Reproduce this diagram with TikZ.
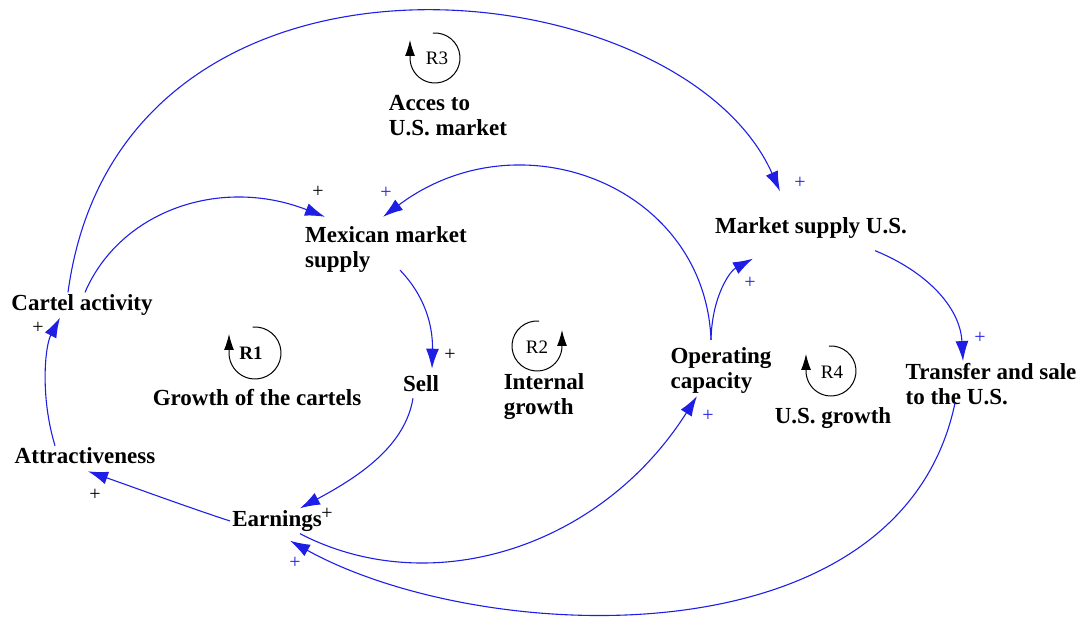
\documentclass[tikz,border=0pt]{standalone}
\usepackage{fontspec}
\setmainfont{Liberation Serif}
\usetikzlibrary{arrows.meta}
\definecolor{linkblue}{RGB}{30,30,230}

\begin{document}
\begin{tikzpicture}[x=1pt,y=1pt,
  var/.style={inner sep=2pt,font=\fontsize{23}{25}\selectfont\bfseries,align=left},
  looptitle/.style={inner sep=2pt,font=\fontsize{23}{25}\selectfont\bfseries,align=left},
  link/.style={linkblue,line width=1.1pt,-{Latex[length=20pt,width=13pt]}},
  pol/.style={inner sep=0pt,font=\fontsize{20}{20}\selectfont},
  loopsym/.style={black,line width=1pt,-{Latex[length=16pt,width=10pt]}},
  looplbl/.style={inner sep=0pt,font=\fontsize{19}{19}\selectfont}]
\useasboundingbox (0,0) rectangle (1084,626);

% Variables
\node[var] (cartel) at (82,321) {Cartel activity};
\node[var] (attract) at (85,170) {Attractiveness};
\node[var] (earnings) at (277,105) {Earnings};
\node[var] (mexsupply) at (386,376) {Mexican market\\supply};
\node[var] (sell) at (421,242) {Sell};
\node[var] (opcap) at (721,255) {Operating\\capacity};
\node[var] (ussupply) at (811,398) {Market supply U.S.};
\node[var] (transfer) at (991,242) {Transfer and sale\\to the U.S.};

% Loop names
\node[looptitle] (t3) at (448,510) {Acces to\\U.S. market};
\node[looptitle] (t1) at (257,228) {Growth of the cartels};
\node[looptitle] (t2) at (544,229) {Internal\\growth};
\node[looptitle] (t4) at (833,208) {U.S. growth};

% Loop symbols
\draw[loopsym] (435,568) ++(95:25) arc[start angle=95,end angle=-180,radius=25] -- ++(0,18);
\node[looplbl] (r3) at (437,568) {R3};
\draw[loopsym] (255,273) ++(95:26) arc[start angle=95,end angle=-180,radius=26] -- ++(0,19);
\node[looplbl,font=\fontsize{19}{19}\selectfont\bfseries] (r1) at (251,273) {R1};
\draw[loopsym] (537,280) ++(85:25) arc[start angle=85,end angle=360,radius=25] -- ++(0,16);
\node[looplbl] (r2) at (537,279) {R2};
\draw[loopsym] (831,255) ++(95:25) arc[start angle=95,end angle=-180,radius=25] -- ++(0,17);
\node[looplbl] (r4) at (832,254) {R4};

% Links
\draw[link] ([xshift=3pt]cartel.north) .. controls (120,415) and (220,450) .. ([xshift=22pt,yshift=8pt]mexsupply.north west);
\draw[link] ([xshift=-14pt]cartel.north) .. controls (120,720) and (680,660) .. ([xshift=-31pt,yshift=24pt]ussupply.north);
\draw[link] ([xshift=-30pt]attract.north) .. controls (40,230) and (45,280) .. ([xshift=-22pt]cartel.south);
\draw[link] (earnings.west) .. controls (190,118) and (130,140) .. ([xshift=3pt,yshift=-5pt]attract.south);
\draw[link] ([xshift=14pt,yshift=5pt]mexsupply.south) .. controls (425,330) and (433,300) .. ([xshift=11pt,yshift=5pt]sell.north);
\draw[link] ([xshift=-8pt,yshift=-4pt]sell.south) .. controls (405,180) and (360,150) .. ([xshift=23pt]earnings.north);
\draw[link] ([xshift=23pt]earnings.south) .. controls (430,25) and (600,77) .. ([xshift=-24pt]opcap.south);
\draw[link] ([xshift=-10pt,yshift=6pt]opcap.north) .. controls (705,440) and (520,512) .. ([xshift=-3pt,yshift=8pt]mexsupply.north);
\draw[link] ([xshift=-10pt,yshift=6pt]opcap.north) .. controls (712,330) and (730,355) .. ([xshift=-58pt,yshift=-18pt]ussupply.south);
\draw[link] ([xshift=64pt,yshift=-10pt]ussupply.south) .. controls (925,355) and (960,320) .. ([xshift=-28pt]transfer.north);
\draw[link] ([xshift=-36pt,yshift=4pt]transfer.south) .. controls (900,-40) and (480,-20) .. ([xshift=13pt,yshift=-7pt]earnings.south);

% Polarities
\node[pol] (p1) at (38,298) {+};
\node[pol] (p2) at (95,131) {+};
\node[pol] (p3) at (318,434) {+};
\node[pol,linkblue] (p4) at (386,433) {+};
\node[pol,linkblue] (p5) at (800,443) {+};
\node[pol,linkblue] (p6) at (750,343) {+};
\node[pol] (p7) at (450,271) {+};
\node[pol] (p8) at (327,112) {+};
\node[pol,linkblue] (p9) at (295,63) {+};
\node[pol,linkblue] (p10) at (708,210) {+};
\node[pol,linkblue] (p11) at (980,288) {+};
\end{tikzpicture}
\end{document}
